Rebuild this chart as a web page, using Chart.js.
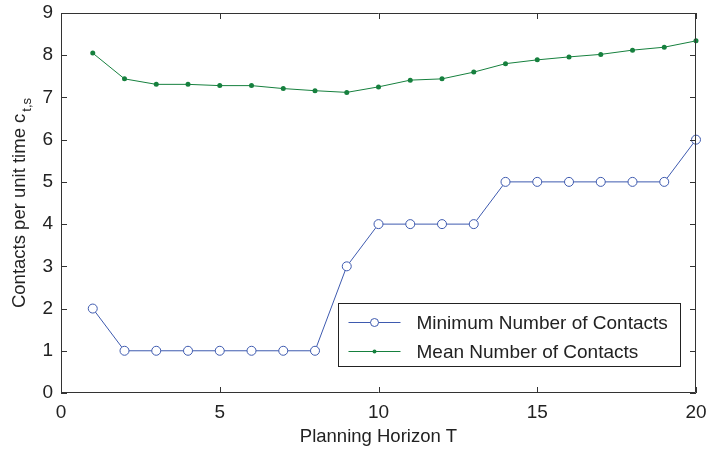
<!DOCTYPE html>
<html>
<head>
<meta charset="utf-8">
<script src="https://cdn.jsdelivr.net/npm/chart.js@4.4.1/dist/chart.umd.min.js"></script>
<style>
  html, body { margin: 0; padding: 0; background: #fff; }
</style>
</head>
<body>
<canvas id="chart" width="714" height="454"></canvas>
<script>
// valores
const horizons = [1, 2, 3, 4, 5, 6, 7, 8, 9, 10, 11, 12, 13, 14, 15, 16, 17, 18, 19, 20];
const minContacts = [2, 1, 1, 1, 1, 1, 1, 1, 3, 4, 4, 4, 4, 5, 5, 5, 5, 5, 5, 6];
const meanContacts = [8.05, 7.44, 7.31, 7.31, 7.28, 7.28, 7.21, 7.16, 7.12, 7.25,
                      7.41, 7.44, 7.60, 7.80, 7.89, 7.96, 8.02, 8.12, 8.19, 8.34];
const xTicks = [0, 5, 10, 15, 20];
const yTicks = [0, 1, 2, 3, 4, 5, 6, 7, 8, 9];
const seriesNames = ['Minimum Number of Contacts', 'Mean Number of Contacts'];

const FONT = "'Liberation Sans', Arial, Helvetica, sans-serif";
const BLUE = 'rgb(62, 90, 175)';
const GREEN = 'rgb(22, 128, 62)';
const AXIS = '#333';

// marco con marcas hacia dentro en los cuatro lados
const framePlugin = {
  id: 'frame',
  afterDatasetsDraw(chart) {
    const { ctx, chartArea: a, scales: { x, y } } = chart;
    const len = 6;
    ctx.save();
    ctx.strokeStyle = AXIS;
    ctx.lineWidth = 1;
    ctx.beginPath();
    ctx.rect(a.left + 0.5, a.top + 0.5, a.right - a.left - 1, a.bottom - a.top - 1);
    xTicks.forEach(v => {
      const px = Math.round(x.getPixelForValue(v)) + 0.5;
      ctx.moveTo(px, a.bottom); ctx.lineTo(px, a.bottom - len);
      ctx.moveTo(px, a.top); ctx.lineTo(px, a.top + len);
    });
    yTicks.forEach(v => {
      const py = Math.round(y.getPixelForValue(v)) + 0.5;
      ctx.moveTo(a.left, py); ctx.lineTo(a.left + len, py);
      ctx.moveTo(a.right, py); ctx.lineTo(a.right - len, py);
    });
    ctx.stroke();
    ctx.restore();
  }
};

// título del eje y con subíndice
const yTitlePlugin = {
  id: 'yTitle',
  afterDraw(chart) {
    const { ctx, chartArea: a } = chart;
    const main = 'Contacts per unit time c';
    const sub = 't,s';
    ctx.save();
    ctx.fillStyle = '#222';
    ctx.textBaseline = 'alphabetic';
    ctx.font = `18.5px ${FONT}`;
    const w1 = ctx.measureText(main).width;
    ctx.font = `13px ${FONT}`;
    const w2 = ctx.measureText(sub).width;
    ctx.translate(25, (a.top + a.bottom) / 2);
    ctx.rotate(-Math.PI / 2);
    const start = -(w1 + w2 + 2) / 2;
    ctx.font = `18.5px ${FONT}`;
    ctx.fillText(main, start, 0);
    ctx.font = `13px ${FONT}`;
    ctx.fillText(sub, start + w1 + 2, 6);
    ctx.restore();
  }
};

// leyenda dentro del área del gráfico, abajo a la derecha
const legendPlugin = {
  id: 'boxLegend',
  afterDraw(chart) {
    const { ctx } = chart;
    const box = { x: 338.5, y: 303.5, w: 342, h: 63 };
    ctx.save();
    ctx.fillStyle = '#fff';
    ctx.fillRect(box.x, box.y, box.w, box.h);
    ctx.strokeStyle = '#222';
    ctx.lineWidth = 1;
    ctx.strokeRect(box.x, box.y, box.w, box.h);
    chart.data.datasets.forEach((ds, i) => {
      const cy = box.y + 19 + i * 29;
      ctx.strokeStyle = ds.borderColor;
      ctx.lineWidth = 1;
      ctx.beginPath();
      ctx.moveTo(box.x + 10, cy); ctx.lineTo(box.x + 62, cy);
      ctx.stroke();
      ctx.beginPath();
      ctx.arc(box.x + 36, cy, ds.pointRadius - 0.5, 0, Math.PI * 2);
      if (ds.pointBackgroundColor !== '#fff') {
        ctx.fillStyle = ds.pointBackgroundColor;
        ctx.fill();
      } else {
        ctx.fillStyle = '#fff';
        ctx.fill();
        ctx.stroke();
      }
      ctx.fillStyle = '#222';
      ctx.font = `19px ${FONT}`;
      ctx.textBaseline = 'middle';
      ctx.fillText(ds.label, box.x + 78, cy + 1);
    });
    ctx.restore();
  }
};

new Chart(document.getElementById('chart'), {
  type: 'line',
  data: {
    datasets: [
      {
        label: seriesNames[0],
        data: horizons.map((h, i) => ({ x: h, y: minContacts[i] })),
        borderColor: BLUE,
        borderWidth: 1,
        pointRadius: 4.5,
        pointBorderWidth: 1,
        pointBackgroundColor: '#fff',
        pointBorderColor: BLUE,
        clip: false
      },
      {
        label: seriesNames[1],
        data: horizons.map((h, i) => ({ x: h, y: meanContacts[i] })),
        borderColor: GREEN,
        borderWidth: 1,
        pointRadius: 2.5,
        pointBorderWidth: 0,
        pointBackgroundColor: GREEN,
        pointBorderColor: GREEN,
        clip: false
      }
    ]
  },
  options: {
    responsive: false,
    animation: false,
    layout: { padding: { top: 13, right: 18, left: 0, bottom: 0 } },
    plugins: {
      legend: { display: false },
      tooltip: { enabled: false }
    },
    scales: {
      x: {
        type: 'linear',
        min: 0,
        max: 20,
        afterBuildTicks: s => { s.ticks = xTicks.map(v => ({ value: v })); },
        afterFit: s => { s.height = 61; s.paddingLeft = 0; s.paddingRight = 0; },
        grid: { display: false, drawTicks: false },
        border: { display: false },
        ticks: { color: '#222', font: { family: FONT, size: 19 }, padding: 8, maxRotation: 0 },
        title: { display: true, text: 'Planning Horizon T', color: '#222', font: { family: FONT, size: 18.5 }, padding: { top: 0, bottom: 6 } }
      },
      y: {
        type: 'linear',
        min: 0,
        max: 9,
        afterBuildTicks: s => { s.ticks = yTicks.map(v => ({ value: v })); },
        afterFit: s => { s.width = 61; s.paddingTop = 0; s.paddingBottom = 0; },
        grid: { display: false, drawTicks: false },
        border: { display: false },
        ticks: { color: '#222', font: { family: FONT, size: 19 }, padding: 8 }
      }
    }
  },
  plugins: [framePlugin, yTitlePlugin, legendPlugin]
});
</script>
</body>
</html>
